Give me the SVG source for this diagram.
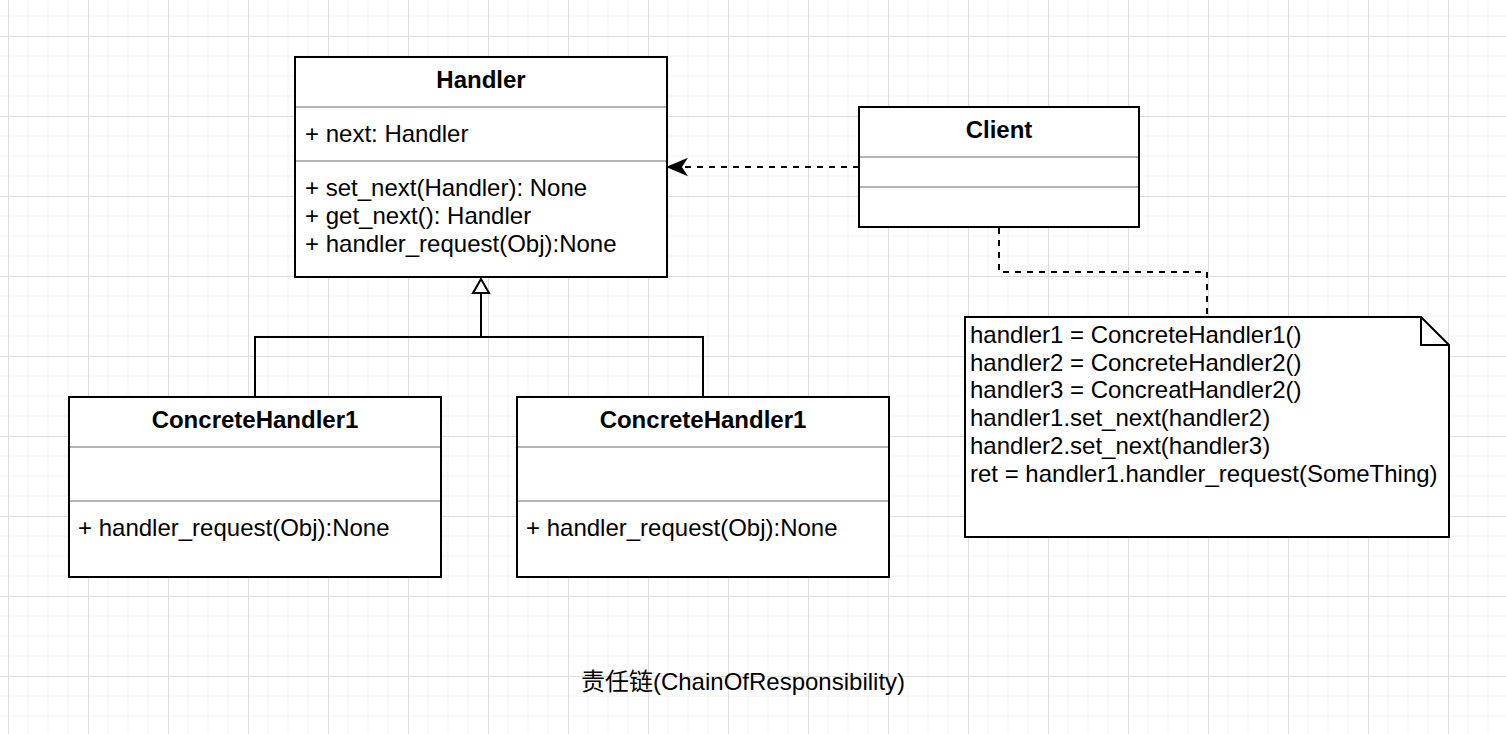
<svg xmlns="http://www.w3.org/2000/svg" width="1506" height="734" viewBox="0 0 1506 734">
<defs>
<pattern id="grid" patternUnits="userSpaceOnUse" x="8" y="36" width="80" height="80">
<path d="M20 0V80M40 0V80M60 0V80M0 20H80M0 40H80M0 60H80" stroke="#f3f3f3" stroke-width="1" fill="none"/>
<path d="M0.5 0V80M0 0.5H80" stroke="#dddddd" stroke-width="1" fill="none"/>
</pattern>
<style>
.box{fill:#ffffff;stroke:#000000;stroke-width:2}
.sep{stroke:#9a9a9a;stroke-width:1.5}
.t{font-family:"Liberation Sans",Arial,Helvetica,sans-serif;font-size:24px;fill:#000000}
.b{font-weight:bold;text-anchor:middle}
.edge{fill:none;stroke:#000000;stroke-width:2}
.dash{stroke-dasharray:6 6}
</style>
</defs>
<rect width="1506" height="734" fill="#ffffff"/>
<rect width="1506" height="734" fill="url(#grid)"/>

<g id="connectors">
<path class="edge dash" d="M859 167H684"/>
<path d="M668 167L686 159.5L681 167L686 174.5Z" fill="#000000" stroke="#000000" stroke-width="1.5" stroke-linejoin="miter"/>
<path class="edge dash" d="M999 228V272H1207V317"/>
<path class="edge" d="M255 397V337H703V397M481 337V293"/>
<path d="M481 279L489 293H473Z" fill="#ffffff" stroke="#000000" stroke-width="2"/>
</g>

<g id="handler">
<rect class="box" x="295" y="57" width="372" height="220"/>
<line class="sep" x1="296" y1="107" x2="666" y2="107"/>
<line class="sep" x1="296" y1="161" x2="666" y2="161"/>
<text class="t b" x="481" y="88">Handler</text>
<text class="t" x="305" y="142">+ next: Handler</text>
<text class="t" x="305" y="196">+ set_next(Handler): None</text>
<text class="t" x="305" y="224">+ get_next(): Handler</text>
<text class="t" x="305" y="252">+ handler_request(Obj):None</text>
</g>

<g id="client">
<rect class="box" x="859" y="107" width="280" height="120"/>
<line class="sep" x1="860" y1="157" x2="1138" y2="157"/>
<line class="sep" x1="860" y1="187" x2="1138" y2="187"/>
<text class="t b" x="999" y="138">Client</text>
</g>

<g id="concrete1">
<rect class="box" x="69" y="397" width="372" height="180"/>
<line class="sep" x1="70" y1="447" x2="440" y2="447"/>
<line class="sep" x1="70" y1="501" x2="440" y2="501"/>
<text class="t b" x="255" y="428">ConcreteHandler1</text>
<text class="t" x="78" y="536">+ handler_request(Obj):None</text>
</g>

<g id="concrete2">
<rect class="box" x="517" y="397" width="372" height="180"/>
<line class="sep" x1="518" y1="447" x2="888" y2="447"/>
<line class="sep" x1="518" y1="501" x2="888" y2="501"/>
<text class="t b" x="703" y="428">ConcreteHandler1</text>
<text class="t" x="526" y="536">+ handler_request(Obj):None</text>
</g>

<g id="note">
<path d="M965 317H1421L1449 345V537H965Z" fill="#ffffff" stroke="#000000" stroke-width="2"/>
<path d="M1421 317V345H1449" fill="none" stroke="#000000" stroke-width="2"/>
<text class="t" x="970" y="343">handler1 = ConcreteHandler1()</text>
<text class="t" x="970" y="371">handler2 = ConcreteHandler2()</text>
<text class="t" x="970" y="398">handler3 = ConcreatHandler2()</text>
<text class="t" x="970" y="426">handler1.set_next(handler2)</text>
<text class="t" x="970" y="454">handler2.set_next(handler3)</text>
<text class="t" x="970" y="482">ret = handler1.handler_request(SomeThing)</text>
</g>

<g id="title">
<text x="743" y="690" text-anchor="middle" style="font-family:'Liberation Sans','Noto Sans CJK SC',sans-serif;font-size:24px;fill:#000000">责任链(ChainOfResponsibility)</text>
</g>
</svg>
